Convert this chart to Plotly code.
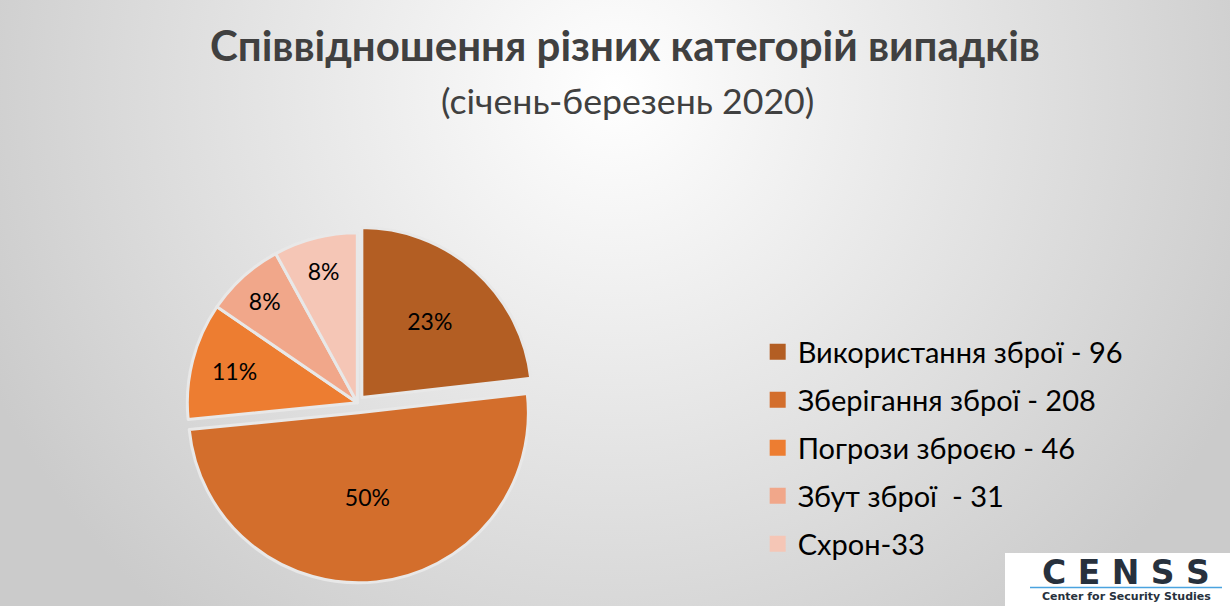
import base64
import plotly.graph_objects as go

# ---- data ----
categories = ["Використання зброї - 96", "Зберігання зброї - 208", "Погрози зброєю - 46",
              "Збут зброї  - 31", "Схрон-33"]
values = [96, 208, 46, 31, 33]
pct_labels = ["23%", "50%", "11%", "8%", "8%"]
colors = ["#B35E23", "#D36E2C", "#ED7D31", "#F1A78A", "#F5C6B6"]
pulls = [0.04, 0.06, 0, 0, 0]

title_text = "Співвідношення різних категорій випадків"
subtitle_text = "(січень-березень 2020)"

W, H = 1230, 606
FONT = "Lato"

fig = go.Figure()

fig.add_trace(go.Pie(
    labels=categories, values=values, text=pct_labels,
    textinfo="text", textposition="inside", insidetextorientation="horizontal",
    textfont=dict(family=FONT, size=23, color="#000000"),
    marker=dict(colors=colors, line=dict(color="#e8e8e8", width=3)),
    pull=pulls, sort=False, direction="clockwise", rotation=0,
    domain=dict(x=[0.144, 0.437], y=[0.038, 0.633]),
    showlegend=False, hoverinfo="label+percent",
))

# legend entries (one group each so spacing can match)
for cat, col in zip(categories, colors):
    fig.add_trace(go.Scatter(
        x=[None], y=[None], mode="markers", name=cat, legendgroup=cat,
        marker=dict(symbol="square", size=16, color=col), showlegend=True,
    ))

# radial gradient background as svg data uri
svg = f'''<svg xmlns="http://www.w3.org/2000/svg" width="{W}" height="{H}">
<defs><radialGradient id="g" cx="615" cy="90" r="690" gradientUnits="userSpaceOnUse">
<stop offset="0" stop-color="#ffffff"/><stop offset="1" stop-color="#cbcbcb"/></radialGradient></defs>
<rect width="{W}" height="{H}" fill="url(#g)"/></svg>'''
bg_src = "data:image/svg+xml;base64," + base64.b64encode(svg.encode()).decode()

fig.update_layout(
    width=W, height=H, margin=dict(l=0, r=0, t=0, b=0),
    paper_bgcolor="#e6e6e6", plot_bgcolor="rgba(0,0,0,0)",
    xaxis=dict(visible=False), yaxis=dict(visible=False),
    images=[dict(source=bg_src, xref="paper", yref="paper", x=0, y=1, sizex=1, sizey=1,
                 xanchor="left", yanchor="top", sizing="stretch", layer="below")],
    legend=dict(x=0.616, xanchor="left", y=1 - 448 / H, yanchor="middle",
                font=dict(family=FONT, size=29, color="#000000"),
                tracegroupgap=7.3, traceorder="grouped", bgcolor="rgba(0,0,0,0)",
                itemclick=False, itemdoubleclick=False),
    annotations=[
        dict(text=f"<b>{title_text}</b>", x=625 / W, y=1 - 45 / H, xref="paper", yref="paper",
             xanchor="center", yanchor="middle", showarrow=False,
             font=dict(family=FONT, size=42, color="#404040")),
        dict(text=subtitle_text, x=627 / W, y=1 - 100 / H, xref="paper", yref="paper",
             xanchor="center", yanchor="middle", showarrow=False,
             font=dict(family=FONT, size=35.7, color="#404040")),
        dict(text="<b>C E N S S</b>", x=1126 / W, y=1 - 572 / H, xref="paper", yref="paper",
             xanchor="center", yanchor="middle", showarrow=False,
             font=dict(family="DejaVu Sans", size=33, color="#27313d")),
        dict(text="<b>Center for Security Studies</b>", x=1126 / W, y=1 - 596 / H,
             xref="paper", yref="paper", xanchor="center", yanchor="middle", showarrow=False,
             font=dict(family="DejaVu Sans", size=11, color="#27313d")),
    ],
    shapes=[
        dict(type="rect", xref="paper", yref="paper", x0=1005 / W, x1=1, y0=0, y1=1 - 553 / H,
             fillcolor="#ffffff", line=dict(width=0), layer="above"),
        dict(type="line", xref="paper", yref="paper", x0=1030 / W, x1=1222 / W,
             y0=1 - 587.5 / H, y1=1 - 587.5 / H, line=dict(color="#4aa3df", width=1.5)),
    ],
)

fig.write_html("out.html", config={"displayModeBar": False},
               post_script="document.body.style.margin='0';document.body.style.overflow='hidden';")
